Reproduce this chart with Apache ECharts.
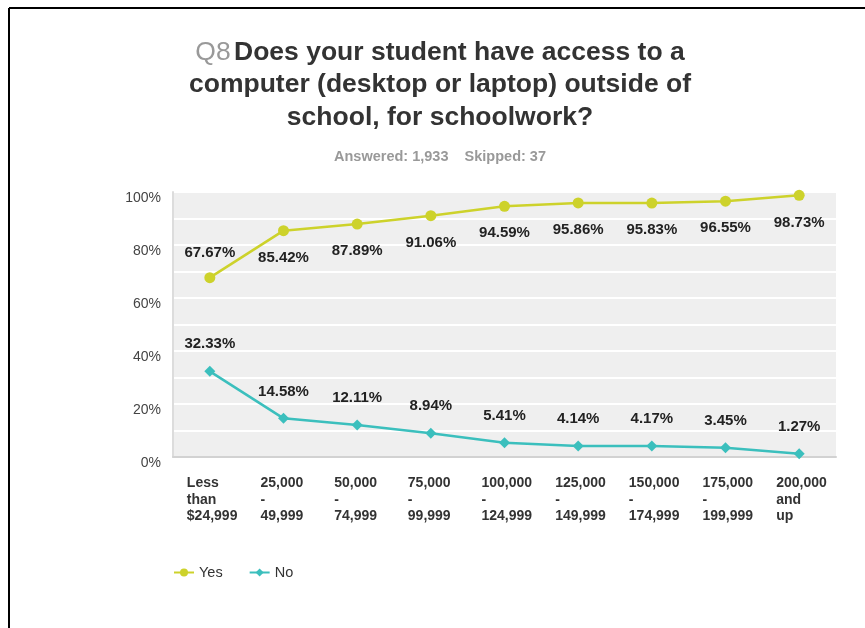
<!DOCTYPE html>
<html>
<head>
<meta charset="utf-8">
<script src="https://cdn.jsdelivr.net/npm/echarts@6/dist/echarts.min.js"></script>
<style>
html,body{margin:0;padding:0;background:#fff;}
#chart{width:865px;height:628px;}
</style>
</head>
<body>
<div id="chart"></div>
<script>
const categories = [
  ['Less', 'than', '$24,999'],
  ['25,000', '-', '49,999'],
  ['50,000', '-', '74,999'],
  ['75,000', '-', '99,999'],
  ['100,000', '-', '124,999'],
  ['125,000', '-', '149,999'],
  ['150,000', '-', '174,999'],
  ['175,000', '-', '199,999'],
  ['200,000', 'and', 'up']
];
const yesValues = [67.67, 85.42, 87.89, 91.06, 94.59, 95.86, 95.83, 96.55, 98.73];
const noValues = [32.33, 14.58, 12.11, 8.94, 5.41, 4.14, 4.17, 3.45, 1.27];
const yTicks = [0, 20, 40, 60, 80, 100];

const FONT = '"Liberation Sans", Arial, sans-serif';
const chart = echarts.init(document.getElementById('chart'));

const option = {
  animation: false,
  backgroundColor: '#fff',
  graphic: [
    { type: 'line', shape: { x1: 9, y1: 8, x2: 9, y2: 628 }, style: { stroke: '#000', lineWidth: 2 } },
    { type: 'line', shape: { x1: 9, y1: 8, x2: 865, y2: 8 }, style: { stroke: '#000', lineWidth: 2 } },
    {
      type: 'text', x: 440, y: 36,
      style: {
        text: '{q|Q8} {t|Does your student have access to a}\n{t|computer (desktop or laptop) outside of}\n{t|school, for schoolwork?}',
        align: 'center', verticalAlign: 'top',
        rich: {
          q: { fontFamily: FONT, fontSize: 26.5, fill: '#999', lineHeight: 32.5 },
          t: { fontFamily: FONT, fontSize: 26.5, fontWeight: 'bold', fill: '#333', lineHeight: 32.5 }
        }
      }
    },
    {
      type: 'text', x: 440, y: 157,
      style: {
        text: 'Answered: 1,933    Skipped: 37',
        align: 'center', verticalAlign: 'middle',
        fontFamily: FONT, fontSize: 14.5, fontWeight: 'bold', fill: '#999'
      }
    }
  ],
  grid: {
    left: 173, right: 29, top: 192, bottom: 171,
    show: true, backgroundColor: '#efefef', borderWidth: 0
  },
  legend: {
    left: 168, top: 560,
    itemWidth: 20, itemHeight: 10, itemGap: 26,
    textStyle: { fontFamily: FONT, fontSize: 14.5, color: '#333' },
    data: ['Yes', 'No']
  },
  xAxis: {
    type: 'category',
    data: categories.map(c => c.join('\n')),
    boundaryGap: true,
    axisLine: { show: true, lineStyle: { color: '#d2d2d2', width: 2 } },
    axisTick: { show: false },
    splitLine: { show: false },
    axisLabel: {
      interval: 0,
      margin: 18,
      align: 'center',
      formatter: function (v) {
        return v.split('\n').map(s => '{a|' + s + '}').join('\n');
      },
      rich: {
        a: { width: 46, align: 'left', fontFamily: FONT, fontSize: 14, fontWeight: 'bold', color: '#333', lineHeight: 16.5 }
      }
    }
  },
  yAxis: {
    type: 'value',
    min: 0, max: 100, interval: 10,
    axisLine: { show: true, lineStyle: { color: '#dcdcdc', width: 2 } },
    axisTick: { show: false },
    splitLine: { show: true, lineStyle: { color: '#ffffff', width: 2 } },
    axisLabel: {
      margin: 12,
      verticalAlign: 'top',
      lineHeight: 12,
      fontFamily: FONT, fontSize: 14, color: '#444',
      formatter: function (v) { return yTicks.indexOf(v) >= 0 ? v + '%' : ''; }
    }
  },
  series: [
    {
      name: 'Yes', type: 'line',
      data: yesValues.map((v, i) => i === 0 ? { value: v, label: { position: 'top', distance: 12 } } : v),
      symbol: 'circle', symbolSize: 11,
      itemStyle: { color: '#cdd22b' },
      lineStyle: { color: '#cdd22b', width: 2.5 },
      label: {
        show: true, position: 'bottom', distance: 14,
        formatter: p => p.value.toFixed(2) + '%',
        fontFamily: FONT, fontSize: 15, fontWeight: 'bold', color: '#222'
      },
      z: 3
    },
    {
      name: 'No', type: 'line',
      data: noValues,
      symbol: 'diamond', symbolSize: 11,
      itemStyle: { color: '#3bbfbd' },
      lineStyle: { color: '#3bbfbd', width: 2.5 },
      label: {
        show: true, position: 'top', distance: 14,
        formatter: p => p.value.toFixed(2) + '%',
        fontFamily: FONT, fontSize: 15, fontWeight: 'bold', color: '#222'
      },
      z: 3
    }
  ]
};
chart.setOption(option);
</script>
</body>
</html>
